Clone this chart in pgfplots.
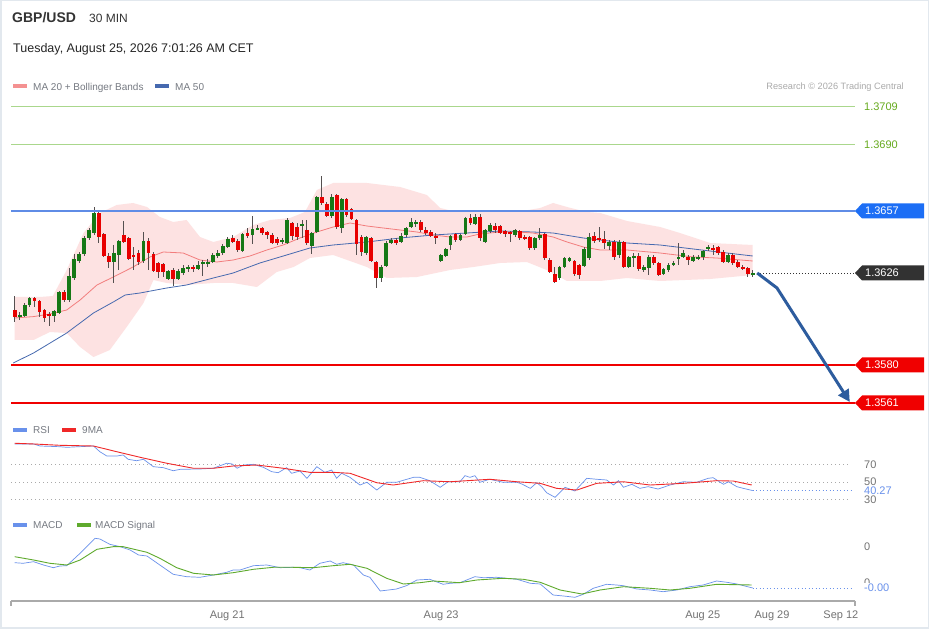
\documentclass[border=0pt]{standalone}
\usepackage{fontspec}
\setmainfont{Liberation Sans}
\usepackage{pgfplots}
\pgfplotsset{compat=1.18}
\usepackage{pgfplotstable}
\usetikzlibrary{arrows.meta}

\definecolor{bbfill}{RGB}{253,226,226}
\definecolor{ma20}{RGB}{242,125,125}
\definecolor{ma50}{RGB}{70,105,175}
\definecolor{cgreen}{RGB}{22,120,22}
\definecolor{cred}{RGB}{232,0,0}
\definecolor{wick}{RGB}{85,80,80}
\definecolor{lvgreen}{RGB}{170,215,140}
\definecolor{lvgreentxt}{RGB}{102,170,30}
\definecolor{lvblue}{RGB}{95,140,230}
\definecolor{tagblue}{RGB}{28,110,245}
\definecolor{tagdark}{RGB}{50,50,50}
\definecolor{lvred}{RGB}{240,0,0}
\definecolor{rsiblue}{RGB}{105,145,235}
\definecolor{mared}{RGB}{240,40,40}
\definecolor{sigreen}{RGB}{95,170,45}
\definecolor{legtxt}{RGB}{118,122,130}
\definecolor{ltgray}{RGB}{170,170,170}
\definecolor{lbltxt}{RGB}{115,115,115}
\definecolor{framec}{RGB}{226,232,238}
\definecolor{arrowblue}{RGB}{45,92,158}
\definecolor{axgray}{RGB}{170,170,170}
\definecolor{titlec}{RGB}{51,51,51}

\newcommand\fs[1]{\fontsize{#1}{#1}\selectfont}

% candles: index, open, high, low, close
\pgfplotstableread{
i o h l c
0 1.36075 1.36145 1.36015 1.36040
1 1.36040 1.36065 1.36025 1.36050
2 1.36045 1.36110 1.36040 1.36100
3 1.36100 1.36140 1.36090 1.36135
4 1.36135 1.36140 1.36090 1.36120
5 1.36120 1.36125 1.36040 1.36065
6 1.36075 1.36080 1.36015 1.36035
7 1.36055 1.36065 1.35995 1.36045
8 1.36045 1.36075 1.36015 1.36070
9 1.36060 1.36170 1.36055 1.36165
10 1.36165 1.36175 1.36115 1.36125
11 1.36125 1.36285 1.36115 1.36245
12 1.36235 1.36355 1.36225 1.36330
13 1.36320 1.36365 1.36310 1.36355
14 1.36355 1.36445 1.36345 1.36435
15 1.36435 1.36485 1.36425 1.36475
16 1.36460 1.36590 1.36450 1.36560
17 1.36560 1.36565 1.36410 1.36440
18 1.36455 1.36460 1.36340 1.36345
19 1.36345 1.36360 1.36285 1.36315
20 1.36315 1.36400 1.36210 1.36360
21 1.36350 1.36425 1.36275 1.36420
22 1.36450 1.36520 1.36410 1.36415
23 1.36435 1.36440 1.36325 1.36330
24 1.36350 1.36390 1.36275 1.36340
25 1.36360 1.36375 1.36300 1.36315
26 1.36320 1.36465 1.36310 1.36420
27 1.36420 1.36435 1.36275 1.36360
28 1.36355 1.36365 1.36265 1.36270
29 1.36310 1.36315 1.36235 1.36265
30 1.36305 1.36310 1.36240 1.36265
31 1.36230 1.36275 1.36225 1.36270
32 1.36275 1.36285 1.36195 1.36230
33 1.36230 1.36280 1.36225 1.36270
34 1.36260 1.36300 1.36250 1.36285
35 1.36280 1.36300 1.36265 1.36290
36 1.36290 1.36300 1.36265 1.36280
37 1.36280 1.36320 1.36275 1.36300
38 1.36305 1.36325 1.36245 1.36315
39 1.36310 1.36330 1.36290 1.36315
40 1.36315 1.36360 1.36310 1.36350
41 1.36345 1.36375 1.36335 1.36360
42 1.36360 1.36405 1.36350 1.36395
43 1.36390 1.36440 1.36385 1.36430
44 1.36435 1.36450 1.36410 1.36415
45 1.36420 1.36430 1.36365 1.36375
46 1.36370 1.36460 1.36365 1.36455
47 1.36460 1.36485 1.36435 1.36445
48 1.36450 1.36545 1.36405 1.36480
49 1.36480 1.36500 1.36475 1.36485
50 1.36485 1.36490 1.36450 1.36460
51 1.36465 1.36470 1.36430 1.36450
52 1.36450 1.36460 1.36405 1.36410
53 1.36430 1.36440 1.36400 1.36410
54 1.36415 1.36435 1.36405 1.36425
55 1.36410 1.36535 1.36405 1.36525
56 1.36510 1.36515 1.36425 1.36445
57 1.36490 1.36510 1.36425 1.36440
58 1.36495 1.36525 1.36435 1.36505
59 1.36475 1.36525 1.36400 1.36410
60 1.36395 1.36465 1.36355 1.36460
61 1.36465 1.36645 1.36460 1.36640
62 1.36640 1.36745 1.36600 1.36610
63 1.36605 1.36615 1.36540 1.36545
64 1.36545 1.36655 1.36535 1.36640
65 1.36650 1.36655 1.36480 1.36490
66 1.36485 1.36635 1.36460 1.36630
67 1.36630 1.36635 1.36540 1.36550
68 1.36580 1.36585 1.36525 1.36530
69 1.36525 1.36530 1.36350 1.36405
70 1.36440 1.36450 1.36345 1.36365
71 1.36360 1.36445 1.36350 1.36440
72 1.36435 1.36440 1.36315 1.36320
73 1.36315 1.36320 1.36185 1.36235
74 1.36235 1.36300 1.36215 1.36290
75 1.36295 1.36420 1.36290 1.36410
76 1.36410 1.36435 1.36405 1.36425
77 1.36425 1.36435 1.36400 1.36410
78 1.36415 1.36460 1.36410 1.36445
79 1.36450 1.36490 1.36440 1.36485
80 1.36490 1.36535 1.36485 1.36515
81 1.36510 1.36525 1.36490 1.36515
82 1.36515 1.36525 1.36465 1.36475
83 1.36475 1.36490 1.36450 1.36460
84 1.36465 1.36475 1.36440 1.36445
85 1.36445 1.36460 1.36405 1.36440
86 1.36320 1.36355 1.36315 1.36350
87 1.36345 1.36385 1.36340 1.36380
88 1.36400 1.36450 1.36375 1.36445
89 1.36455 1.36460 1.36415 1.36425
90 1.36425 1.36455 1.36420 1.36450
91 1.36455 1.36540 1.36450 1.36535
92 1.36535 1.36555 1.36500 1.36510
93 1.36505 1.36555 1.36500 1.36540
94 1.36540 1.36555 1.36420 1.36435
95 1.36415 1.36480 1.36410 1.36475
96 1.36470 1.36510 1.36460 1.36500
97 1.36495 1.36510 1.36460 1.36475
98 1.36495 1.36500 1.36455 1.36460
99 1.36470 1.36475 1.36440 1.36455
100 1.36465 1.36470 1.36415 1.36460
101 1.36450 1.36480 1.36440 1.36475
102 1.36470 1.36475 1.36425 1.36435
103 1.36440 1.36450 1.36425 1.36435
104 1.36440 1.36445 1.36375 1.36385
105 1.36385 1.36440 1.36375 1.36435
106 1.36435 1.36485 1.36425 1.36450
107 1.36455 1.36460 1.36325 1.36335
108 1.36325 1.36335 1.36260 1.36265
109 1.36255 1.36290 1.36210 1.36215
110 1.36235 1.36295 1.36225 1.36290
111 1.36290 1.36340 1.36285 1.36335
112 1.36320 1.36340 1.36315 1.36335
113 1.36320 1.36325 1.36245 1.36255
114 1.36300 1.36305 1.36230 1.36250
115 1.36295 1.36390 1.36290 1.36380
116 1.36335 1.36460 1.36325 1.36440
117 1.36445 1.36465 1.36410 1.36420
118 1.36435 1.36490 1.36415 1.36430
119 1.36430 1.36470 1.36380 1.36410
120 1.36395 1.36425 1.36375 1.36415
121 1.36415 1.36425 1.36325 1.36340
122 1.36350 1.36425 1.36335 1.36415
123 1.36415 1.36420 1.36285 1.36290
124 1.36290 1.36345 1.36285 1.36340
125 1.36335 1.36360 1.36290 1.36345
126 1.36345 1.36360 1.36270 1.36280
127 1.36275 1.36300 1.36265 1.36290
128 1.36285 1.36350 1.36250 1.36340
129 1.36340 1.36350 1.36300 1.36310
130 1.36310 1.36315 1.36245 1.36250
131 1.36255 1.36285 1.36250 1.36280
132 1.36275 1.36310 1.36265 1.36300
133 1.36305 1.36320 1.36295 1.36310
134 1.36335 1.36410 1.36300 1.36340
135 1.36340 1.36375 1.36335 1.36360
136 1.36340 1.36350 1.36300 1.36325
137 1.36320 1.36350 1.36315 1.36340
138 1.36335 1.36350 1.36325 1.36340
139 1.36340 1.36375 1.36325 1.36370
140 1.36380 1.36400 1.36370 1.36390
141 1.36385 1.36400 1.36350 1.36380
142 1.36390 1.36395 1.36350 1.36360
143 1.36365 1.36375 1.36310 1.36315
144 1.36315 1.36360 1.36310 1.36350
145 1.36350 1.36360 1.36300 1.36310
146 1.36315 1.36325 1.36285 1.36290
147 1.36290 1.36300 1.36275 1.36285
148 1.36285 1.36290 1.36240 1.36255
149 1.36250 1.36275 1.36240 1.36260
}\candles

\pgfplotsset{
  panel/.style={scale only axis, width=844pt, xmin=-0.75, xmax=169.65,
    clip=false, anchor=south west},
  nomark/.style={only marks, mark=*, mark size=0pt, mark options={draw=none, fill=none}},
}

\begin{document}
\begin{tikzpicture}[x=1pt,y=1pt]
\fill[white] (0,0) rectangle (929,629);
\draw[framec, line width=1.5pt] (0.75,0.75) rectangle (928.25,628.25);
\coordinate (mainSW) at (11pt,214pt);
\coordinate (rsiSW) at (11pt,124pt);
\coordinate (macdSW) at (11pt,28pt);

% header
\node[anchor=west, inner sep=0pt, font=\fs{14}\bfseries, text=titlec] at (12,611) {GBP/USD};
\node[anchor=west, inner sep=0pt, font=\fs{12}, text=titlec] at (89,611) {30 MIN};
\node[anchor=west, inner sep=0pt, font=\fs{12.5}, text=black!85] at (13,580) {Tuesday, August 25, 2026 7:01:26 AM CET};

% main legend
\fill[ma20!85] (13,541) rectangle (27,545);
\node[anchor=west, inner sep=0pt, font=\fs{10}, text=legtxt] at (33,541.5) {MA 20 + Bollinger Bands};
\fill[ma50] (155,541) rectangle (169,545);
\node[anchor=west, inner sep=0pt, font=\fs{10}, text=legtxt] at (175,541.5) {MA 50};
\node[anchor=east, inner sep=0pt, font=\fs{9.2}, text=ltgray] at (904,541.5) {Research © 2026 Trading Central};

% ================= MAIN PRICE PANEL =================
\begin{axis}[panel, at={(mainSW)}, height=320pt, ymin=1.3555, ymax=1.3715, hide axis]
% Bollinger band area: upper band left to right, then lower band right to left
\addplot[fill=bbfill, draw=none, forget plot] coordinates {
(0,1.3614)(5.1,1.3614)(7.7,1.36145)(10.5,1.36275)(13.9,1.3646)(17.2,1.3656)(20.6,1.3660)(23.9,1.3661)
(26.7,1.3659)(29.3,1.3654)(32,1.36515)(34.7,1.36525)(37.4,1.3644)(40.1,1.36415)(44.1,1.3644)(48.2,1.3650)
(51.6,1.36525)(55.6,1.36535)(58.6,1.36565)(61,1.36675)(64.3,1.3671)(71.1,1.3671)(77.8,1.3669)(83.2,1.3665)
(85.9,1.36585)(89.2,1.36565)(94.6,1.36565)(101.4,1.36565)(106.1,1.36585)(108.7,1.3661)(111.5,1.3659)
(115.5,1.36565)(118.2,1.3656)(123.6,1.3652)(130.3,1.3649)(134.3,1.3646)(140.4,1.3641)(149,1.3640)
(149,1.3625)(140.4,1.3623)(130.3,1.3622)(123.6,1.36235)(118.2,1.3622)(111.5,1.3622)(107.4,1.36275)
(103.4,1.36315)(98,1.3631)(92.6,1.3629)(87.9,1.36275)(81.2,1.3624)(75.1,1.36235)(71.1,1.3629)(64.3,1.3635)
(59.6,1.36335)(56.3,1.3629)(52.9,1.36265)(48.9,1.3619)(44.1,1.3621)(40.1,1.3621)(34.7,1.3620)(30.7,1.3621)
(28,1.36225)(26,1.3611)(22.6,1.3599)(19.2,1.35875)(15.9,1.3584)(13.2,1.3589)(10.5,1.3596)(7.1,1.35965)
(3.8,1.35925)(0,1.35925)} -- cycle;
% MA 50
\addplot[ma50, line width=0.8pt, forget plot] coordinates {
(-0.3,1.3581)(3.8,1.3586)(10.5,1.3596)(15.9,1.3606)(19.9,1.36115)(22.3,1.3615)(25.3,1.3616)(30.7,1.36185)
(34.7,1.3620)(40.1,1.36235)(44.1,1.3626)(49.5,1.3631)(54.9,1.3635)(59.6,1.36385)(64.3,1.3640)(71.1,1.36415)
(77.8,1.36435)(84.5,1.3645)(91.3,1.3646)(98,1.3647)(104.6,1.36465)(108.7,1.3646)(114.8,1.36435)(118.2,1.36425)
(123.6,1.3641)(130.3,1.3640)(137,1.3638)(143.8,1.3636)(149,1.36345)};
% MA 20
\addplot[ma20, line width=0.8pt, forget plot] coordinates {
(0,1.36035)(3.8,1.36042)(7.1,1.36055)(10.5,1.36075)(13.2,1.36125)(16.6,1.3620)(19.9,1.3624)(23.9,1.3629)
(27.3,1.3634)(30,1.36365)(34,1.3636)(37.4,1.36325)(40.8,1.36315)(44.1,1.36325)(47.5,1.36345)(50.9,1.36375)
(54.2,1.3640)(57.6,1.36435)(61,1.36465)(64.3,1.3649)(67.7,1.3651)(71.1,1.36495)(74.4,1.36485)(77.8,1.36475)
(81.2,1.36465)(84.5,1.3645)(87.9,1.3644)(91.3,1.3644)(93.9,1.36455)(98,1.36465)(101.4,1.36465)(104.6,1.3646)
(108.7,1.3644)(111.5,1.36415)(114.8,1.3639)(118.2,1.36375)(123.6,1.36375)(130.3,1.3636)(137,1.3634)
(141.7,1.36335)(149,1.3632)};
% wicks
\addplot[nomark, forget plot, error bars/.cd, y dir=both, y explicit, error mark=none,
  error bar style={line width=0.9pt, wick}]
  table[x=i, y expr={(\thisrow{h}+\thisrow{l})/2}, y error expr={(\thisrow{h}-\thisrow{l})/2}] {\candles};
% bullish bodies
\addplot[nomark, forget plot, error bars/.cd, y dir=both, y explicit, error mark=none,
  error bar style={line width=3.8pt, cgreen, line cap=butt}]
  table[x=i, y expr={(\thisrow{o}+\thisrow{c})/2}, y error expr={max(\thisrow{c}-\thisrow{o},0)/2}] {\candles};
% bearish bodies
\addplot[nomark, forget plot, error bars/.cd, y dir=both, y explicit, error mark=none,
  error bar style={line width=3.8pt, cred, line cap=butt}]
  table[x=i, y expr={(\thisrow{o}+\thisrow{c})/2}, y error expr={max(\thisrow{o}-\thisrow{c},0)/2}] {\candles};
% levels
\addplot[lvgreen, line width=1pt, forget plot] coordinates {(-0.75,1.3709)(169.65,1.3709)};
\addplot[lvgreen, line width=1pt, forget plot] coordinates {(-0.75,1.3690)(169.65,1.3690)};
\addplot[lvblue, line width=1.5pt, forget plot] coordinates {(-0.75,1.3657)(169.65,1.3657)};
\addplot[lvred, line width=1.8pt, forget plot] coordinates {(-0.75,1.3580)(169.65,1.3580)};
\addplot[lvred, line width=1.8pt, forget plot] coordinates {(-0.75,1.3561)(169.65,1.3561)};
\addplot[tagdark, line width=0.8pt, dash pattern=on 1pt off 2pt, forget plot] coordinates {(149.9,1.3626)(169.65,1.3626)};
% projection arrow
\draw[arrowblue, line width=3pt, line join=round, -{Triangle[length=12pt,width=12pt]}]
  (axis cs:149.9,1.3626) -- (axis cs:153.9,1.36185) -- (axis cs:168.6,1.35615);
% labels on the right
\node[anchor=west, inner sep=0pt, font=\fs{11}, text=lvgreentxt] at ([xshift=9pt]axis cs:169.65,1.3709) {1.3709};
\node[anchor=west, inner sep=0pt, font=\fs{11}, text=lvgreentxt] at ([xshift=9pt]axis cs:169.65,1.3690) {1.3690};
\fill[tagblue] (axis cs:169.65,1.3657) -- ++(7pt,7.5pt) -- ++(62pt,0pt) -- ++(0pt,-15pt) -- ++(-62pt,0pt) -- cycle;
\node[anchor=west, inner sep=0pt, font=\fs{11}, text=white] at ([xshift=10pt]axis cs:169.65,1.3657) {1.3657};
\fill[tagdark] (axis cs:169.65,1.3626) -- ++(7pt,7.5pt) -- ++(62pt,0pt) -- ++(0pt,-15pt) -- ++(-62pt,0pt) -- cycle;
\node[anchor=west, inner sep=0pt, font=\fs{11}, text=white] at ([xshift=10pt]axis cs:169.65,1.3626) {1.3626};
\fill[lvred] (axis cs:169.65,1.3580) -- ++(7pt,7.5pt) -- ++(62pt,0pt) -- ++(0pt,-15pt) -- ++(-62pt,0pt) -- cycle;
\node[anchor=west, inner sep=0pt, font=\fs{11}, text=white] at ([xshift=10pt]axis cs:169.65,1.3580) {1.3580};
\fill[lvred] (axis cs:169.65,1.3561) -- ++(7pt,7.5pt) -- ++(62pt,0pt) -- ++(0pt,-15pt) -- ++(-62pt,0pt) -- cycle;
\node[anchor=west, inner sep=0pt, font=\fs{11}, text=white] at ([xshift=10pt]axis cs:169.65,1.3561) {1.3561};
\end{axis}

% ================= RSI PANEL =================
\fill[rsiblue] (13,197) rectangle (27,201);
\node[anchor=west, inner sep=0pt, font=\fs{10}, text=legtxt] at (33,198.5) {RSI};
\fill[mared] (62,197) rectangle (76,201);
\node[anchor=west, inner sep=0pt, font=\fs{10}, text=legtxt] at (82,198.5) {9MA};
\begin{axis}[panel, at={(rsiSW)}, height=70pt, ymin=23.9, ymax=103.4, hide axis]
\addplot[ltgray, line width=0.8pt, dash pattern=on 1pt off 3pt, forget plot] coordinates {(-0.75,70)(168.6,70)};
\addplot[ltgray, line width=0.8pt, dash pattern=on 1pt off 3pt, forget plot] coordinates {(-0.75,50)(168.6,50)};
\addplot[ltgray, line width=0.8pt, dash pattern=on 1pt off 3pt, forget plot] coordinates {(-0.75,30)(168.6,30)};
\addplot[rsiblue, line width=0.7pt, forget plot] coordinates {
(0,93.2)(3.8,93.2)(5.1,90.9)(9.1,90.1)(10.5,89.4)(15.9,90.9)(17.2,84.4)(18.6,79.5)(20.6,79.5)(21.9,80.7)
(22.9,75.8)(24.6,74.2)(26,75.8)(28,67.4)(30,66.3)(32,62.8)(33.4,64.4)(37.4,64.8)(40.1,65.6)(42.8,71.3)
(43.9,70.5)(44.9,65.6)(46.2,69.3)(48.2,70.1)(50.2,66.7)(51.9,61.7)(53.2,60.6)(54.9,66.3)(55.9,59.9)
(57.6,62.5)(59,54.2)(61,67.4)(62.6,61)(64,63.6)(65,54.2)(66,59.9)(67.7,55.3)(69.7,46.6)(71.1,49.7)
(73.1,40.9)(75.1,49.7)(77.1,49.7)(80.5,55.3)(81.8,55.3)(83.8,51.5)(85.9,44)(87.5,50.3)(89.9,50.3)
(90.9,57.2)(91.9,55.3)(92.9,57.2)(93.9,49.7)(95.9,53.1)(98.6,49.7)(101.4,49.7)(102.4,47.7)(104.1,42.8)
(105.4,49.2)(106.4,44.7)(107.4,37.8)(109.1,32.6)(111.1,44)(113.1,39.8)(115.5,54.2)(117.5,53.1)(119.5,52.3)
(120.9,46.6)(121.9,51.5)(122.9,44)(124.6,47.4)(126.2,42.8)(127.9,44.7)(129.9,42)(132.3,46.6)(135,50.3)
(137.7,49.7)(140,54.2)(141,54.9)(143.1,47.4)(144.1,50.3)(145.8,44.7)(147.1,42.8)(149,40.27)};
\addplot[mared, line width=0.9pt, forget plot] coordinates {
(0,94)(3.8,93.2)(9.1,91.7)(15.9,90.9)(20.6,84.4)(25.3,78.1)(30.7,71.3)(36.1,65.6)(40.1,65.6)(44.1,68.2)
(48.9,69.3)(54.2,65.6)(59.6,61)(64.3,61)(67.7,59.9)(73.1,49.2)(76.4,46.6)(82.5,51.5)(87.9,50.3)(95.9,53.1)
(101.4,50.3)(106.1,48.5)(109.4,42.8)(113.5,40.9)(117.5,48.5)(122.9,50.3)(128.3,46.6)(135,48.5)(141.7,51.5)
(145.1,51.1)(148.8,46.6)};
\addplot[rsiblue, line width=0.9pt, dash pattern=on 1pt off 2.5pt, forget plot] coordinates {(149,40.27)(169.25,40.27)};
\node[anchor=west, inner sep=0pt, font=\fs{11}, text=lbltxt] at ([xshift=9pt]axis cs:169.65,70) {70};
\node[anchor=west, inner sep=0pt, font=\fs{11}, text=lbltxt] at ([xshift=9pt]axis cs:169.65,50) {50};
\node[anchor=west, inner sep=0pt, font=\fs{11}, text=lbltxt] at ([xshift=9pt]axis cs:169.65,30) {30};
\node[anchor=west, inner sep=1pt, fill=white, font=\fs{11}, text=rsiblue] at ([xshift=8pt]axis cs:169.65,40.27) {40.27};
\end{axis}

% ================= MACD PANEL =================
\fill[rsiblue] (13,102) rectangle (27,106);
\node[anchor=west, inner sep=0pt, font=\fs{10}, text=legtxt] at (33,103.5) {MACD};
\fill[sigreen] (77,102) rectangle (91,106);
\node[anchor=west, inner sep=0pt, font=\fs{10}, text=legtxt] at (95,103.5) {MACD Signal};
\begin{axis}[panel, at={(macdSW)}, height=71pt, ymin=-0.00054, ymax=0.00017,
  axis x line*=bottom, axis y line=none,
  x axis line style={-, draw=axgray, line width=1.6pt},
  xtick={42.9,86.1,138.9,152.9,166.8},
  xticklabels={Aug 21,Aug 23,Aug 25,Aug 29,Sep 12},
  major tick length=0pt, ytick=\empty,
  xticklabel style={font=\fs{11}, text=lbltxt, yshift=-6.5pt}]
\addplot[rsiblue, line width=0.7pt, forget plot] coordinates {
(0,-0.000157)(1.7,-0.000163)(3.8,-0.000147)(5.8,-0.00018)(7.8,-0.000207)(9.1,-0.00019)(10.5,-0.000187)
(13.2,-0.000063)(16.2,0.000087)(17.2,0.00008)(19.2,0.000027)(21.3,0.000003)(23.3,-0.00003)(25,-0.00008)
(26.7,-0.00009)(29.3,-0.00018)(32,-0.000273)(34.7,-0.000297)(37.4,-0.000303)(40.1,-0.00028)(42.8,-0.000253)
(44.1,-0.00023)(45.5,-0.00023)(48.2,-0.000187)(50.9,-0.00018)(53.6,-0.000207)(56.2,-0.000203)(57.6,-0.000207)
(59.6,-0.00023)(61.6,-0.000163)(63.7,-0.00014)(65,-0.000173)(66.3,-0.000157)(68.4,-0.00018)(70.4,-0.00028)
(71.7,-0.000303)(73.8,-0.00044)(77.1,-0.00042)(79.1,-0.000387)(81.2,-0.00033)(83.8,-0.000323)(86.5,-0.000373)
(87.9,-0.000363)(89.9,-0.000357)(92.9,-0.000297)(94.6,-0.000307)(97.3,-0.000303)(101.4,-0.000323)
(104.1,-0.000363)(106.1,-0.00037)(108.7,-0.00048)(110.8,-0.00049)(113.1,-0.000503)(114.8,-0.000473)
(116.8,-0.000413)(119.5,-0.000373)(121.5,-0.00038)(122.9,-0.000387)(125.6,-0.00042)(128.3,-0.00043)
(130.9,-0.000447)(133.7,-0.00043)(136.3,-0.000397)(139,-0.00038)(141.7,-0.00034)(143.8,-0.000353)
(145.8,-0.00037)(149,-0.00041)};
\addplot[sigreen, line width=0.9pt, forget plot] coordinates {
(0,-0.000097)(3.8,-0.00013)(7.1,-0.000163)(10.5,-0.00018)(13.2,-0.00013)(16.6,-0.000023)(19.9,0.000003)
(21.9,0.000003)(26.7,-0.000053)(29.3,-0.000113)(32.7,-0.000207)(36.1,-0.000263)(40.1,-0.00028)(44.1,-0.000257)
(48.2,-0.000223)(52.2,-0.000203)(56.2,-0.000203)(60.3,-0.000207)(64.3,-0.000187)(67.7,-0.000173)
(71.1,-0.000213)(75.1,-0.000313)(78.5,-0.00037)(81.8,-0.000357)(84.5,-0.00034)(89.8,-0.000357)(93.3,-0.00033)
(98.6,-0.000313)(102.7,-0.000323)(106.1,-0.000353)(110.1,-0.00043)(114.5,-0.00047)(118.2,-0.00043)
(122.9,-0.000397)(128.3,-0.000413)(132.3,-0.00043)(136.3,-0.000413)(141.7,-0.000373)(148.8,-0.00038)};
\addplot[rsiblue, line width=0.9pt, dash pattern=on 1pt off 2.5pt, forget plot] coordinates {(149,-0.00041)(169.25,-0.00041)};
\draw[axgray, line width=1.2pt] (axis cs:-0.75,-0.00054) -- ++(0pt,-5pt);
\draw[axgray, line width=1.2pt] (axis cs:169.65,-0.00054) -- ++(0pt,-5pt);
\node[anchor=west, inner sep=0pt, font=\fs{11}, text=lbltxt] at ([xshift=9pt]axis cs:169.65,0) {0};
\node[anchor=west, inner sep=0pt, font=\fs{11}, text=lbltxt] at ([xshift=9pt]axis cs:169.65,-0.00036) {0};
\node[anchor=west, inner sep=1pt, fill=white, font=\fs{11}, text=rsiblue] at ([xshift=8pt]axis cs:169.65,-0.00041) {-0.00};
\end{axis}
\pgfresetboundingbox
\path (0,0) rectangle (929,629);
\end{tikzpicture}
\end{document}
